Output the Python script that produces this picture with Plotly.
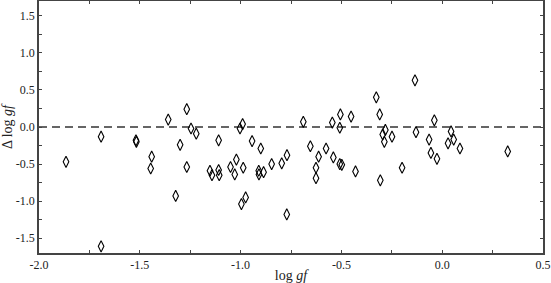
import plotly.graph_objects as go

log_gf = [-1.866, -1.692, -1.692, -1.519, -1.517, -1.441, -1.446, -1.359, -1.300, -1.322,
          -1.267, -1.267, -1.246, -1.220, -1.109, -1.152, -1.142, -1.109, -1.106, -1.050,
          -1.021, -1.029, -0.987, -1.003, -0.990, -0.996, -0.975, -0.943, -0.900, -0.910,
          -0.909, -0.886, -0.846, -0.796, -0.770, -0.771, -0.689, -0.654, -0.613, -0.626,
          -0.626, -0.576, -0.540, -0.545, -0.505, -0.508, -0.508, -0.498, -0.452, -0.430,
          -0.327, -0.310, -0.282, -0.295, -0.287, -0.249, -0.307, -0.199, -0.135, -0.130,
          -0.039, -0.065, -0.056, -0.026, 0.044, 0.029, 0.057, 0.088, 0.325]
delta_log_gf = [-0.47, -0.13, -1.61, -0.18, -0.20, -0.40, -0.56, 0.10, -0.24, -0.93,
                0.24, -0.54, -0.02, -0.09, -0.18, -0.59, -0.65, -0.58, -0.65, -0.54,
                -0.44, -0.64, -0.55, -0.02, 0.04, -1.04, -0.95, -0.19, -0.29, -0.59,
                -0.64, -0.61, -0.50, -0.49, -0.38, -1.18, 0.07, -0.26, -0.40, -0.55,
                -0.69, -0.29, -0.41, 0.06, 0.17, -0.01, -0.50, -0.51, 0.14, -0.60,
                0.40, 0.17, -0.04, -0.10, -0.20, -0.13, -0.72, -0.55, 0.63, -0.07,
                0.09, -0.17, -0.35, -0.43, -0.06, -0.22, -0.17, -0.29, -0.33]

x_tick_vals = [-2.0, -1.5, -1.0, -0.5, 0.0, 0.5]
x_tick_text = ["-2.0", "-1.5", "-1.0", "-0.5", "0.0", "0.5"]
y_tick_vals = [-1.5, -1.0, -0.5, 0.0, 0.5, 1.0, 1.5]
y_tick_text = ["-1.5", "-1.0", "-0.5", "0.0", "0.5", "1.0", "1.5"]
x_minor = [-1.75, -1.25, -0.75, -0.25, 0.25]
y_minor = [-1.25, -0.75, -0.25, 0.25, 0.75, 1.25]
x_range = [-2.0, 0.5]
y_range = [-1.7, 1.7]

SERIF = "Liberation Serif, Times New Roman, serif"

fig = go.Figure()
fig.add_trace(go.Scatter(
    x=x_range, y=[0, 0], mode="lines",
    line=dict(color="#333333", width=1.3, dash="8px,5px"),
    hoverinfo="skip", showlegend=False))
fig.add_trace(go.Scatter(
    x=log_gf, y=delta_log_gf, mode="markers",
    marker=dict(symbol="diamond-tall-open", size=8, color="black",
                line=dict(color="black", width=1.1)),
    showlegend=False))

axis_common = dict(
    showgrid=False, zeroline=False, showline=True, linecolor="#444444", linewidth=1.5,
    mirror="ticks", ticks="inside", ticklen=3, tickcolor="#444444", tickwidth=1,
    tickfont=dict(family=SERIF, size=12, color="#222222"), automargin=False,
)

fig.update_xaxes(range=x_range, tickmode="array", tickvals=x_tick_vals, ticktext=x_tick_text,
                 minor=dict(tickmode="array", tickvals=x_minor, ticks="inside", ticklen=3,
                            tickcolor="#444444"),
                 title=dict(text="log <i>gf</i>", standoff=0,
                            font=dict(family=SERIF, size=14, color="#222222")),
                 **axis_common)
fig.update_yaxes(range=y_range, tickmode="array", tickvals=y_tick_vals, ticktext=y_tick_text,
                 minor=dict(tickmode="array", tickvals=y_minor, ticks="inside", ticklen=3,
                            tickcolor="#444444"),
                 title=dict(text="Δ log <i>gf</i>", standoff=0,
                            font=dict(family=SERIF, size=14, color="#222222")),
                 **axis_common)

fig.update_layout(
    width=551, height=283,
    margin=dict(l=39, r=8, t=1, b=30),
    plot_bgcolor="white", paper_bgcolor="white",
    showlegend=False,
)

fig.write_html("out.html", config={"displayModeBar": False},
               post_script="document.body.style.margin='0';")
